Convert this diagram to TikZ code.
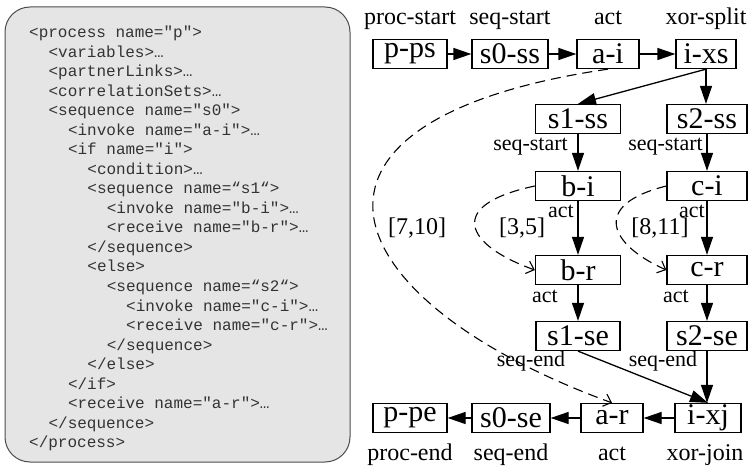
\documentclass[tikz,border=0pt]{standalone}
\usepackage{fontspec}
\setmainfont{Liberation Serif}
\newfontfamily\codefont{Liberation Mono}
\usetikzlibrary{positioning,arrows.meta}

\tikzset{
  blk/.style={draw, line width=1.3pt, inner sep=0pt, minimum height=29pt,
    font=\fontsize{30}{32}\selectfont},
  lbl/.style={inner sep=1pt, anchor=base, font=\fontsize{24}{26}\selectfont},
  sml/.style={inner sep=1pt, font=\fontsize{22}{24}\selectfont},
  arr/.style={line width=1.3pt, -{Triangle[length=18pt,width=12pt]}},
  dep/.style={line width=1.1pt, dash pattern=on 10pt off 6pt,
    -{Straight Barb[length=7pt,width=13pt]}},
  code/.style={anchor=base west, inner sep=0pt, text=black!80,
    font=\codefont\fontsize{16}{19}\selectfont},
}

\begin{document}
\begin{tikzpicture}[x=1pt,y=-1pt]
\useasboundingbox (0,0) rectangle (748,468);

% the BPEL source
\draw[fill=black!10, draw=black!70, line width=1pt, rounded corners=25pt]
  (5,7) rectangle (350,462);
\node[code] (c0) at (29,38) {<process name="p">};
\node[code] (c1) at (48.4,57.5) {<variables>…};
\node[code] (c2) at (48.4,77) {<partnerLinks>…};
\node[code] (c3) at (48.4,96.5) {<correlationSets>…};
\node[code] (c4) at (48.4,116) {<sequence name="s0">};
\node[code] (c5) at (67.8,135.5) {<invoke name="a-i">…};
\node[code] (c6) at (67.8,155) {<if name="i">};
\node[code] (c7) at (87.2,174.5) {<condition>…};
\node[code] (c8) at (87.2,194) {<sequence name=“s1“>};
\node[code] (c9) at (106.6,213.5) {<invoke name="b-i">…};
\node[code] (c10) at (106.6,233) {<receive name="b-r">…};
\node[code] (c11) at (87.2,252.5) {</sequence>};
\node[code] (c12) at (87.2,272) {<else>};
\node[code] (c13) at (106.6,291.5) {<sequence name=“s2“>};
\node[code] (c14) at (126,311) {<invoke name="c-i">…};
\node[code] (c15) at (126,330.5) {<receive name="c-r">…};
\node[code] (c16) at (106.6,350) {</sequence>};
\node[code] (c17) at (87.2,369.5) {</else>};
\node[code] (c18) at (67.8,389) {</if>};
\node[code] (c19) at (67.8,408.5) {<receive name="a-r">…};
\node[code] (c20) at (48.4,428) {</sequence>};
\node[code] (c21) at (29,447.5) {</process>};

% the graph
\node[blk, minimum width=74pt] (pps) at (410,54) {p-ps};
\node[blk, minimum width=76pt] (s0ss) at (510,54) {s0-ss};
\node[blk, minimum width=62pt] (ai) at (608,54) {a-i};
\node[blk, minimum width=60pt] (ixs) at (706,54) {i-xs};

\node[blk, minimum width=85pt] (s1ss) at (578,119) {s1-ss};
\node[blk, minimum width=80pt] (s2ss) at (707,119) {s2-ss};
\node[blk, minimum width=85pt] (bi) at (578,186) {b-i};
\node[blk, minimum width=80pt] (ci) at (707,186) {c-i};
\node[blk, minimum width=85pt] (br) at (578,270) {b-r};
\node[blk, minimum width=80pt] (cr) at (707,270) {c-r};
\node[blk, minimum width=84pt] (s1se) at (578,336) {s1-se};
\node[blk, minimum width=80pt] (s2se) at (707,336) {s2-se};

\node[blk, minimum width=74pt] (ppe) at (410,418) {p-pe};
\node[blk, minimum width=78pt] (s0se) at (511,418) {s0-se};
\node[blk, minimum width=62pt] (ar) at (612,418) {a-r};
\node[blk, minimum width=66pt] (ixj) at (708,418) {i-xj};

\node[lbl] (lpps) at (410,25) {proc-start};
\node[lbl] (ls0ss) at (510,25) {seq-start};
\node[lbl] (lai) at (608,25) {act};
\node[lbl] (lixs) at (706,25) {xor-split};

\node[lbl] (lppe) at (410,460) {proc-end};
\node[lbl] (ls0se) at (511,460) {seq-end};
\node[lbl] (lar) at (612,460) {act};
\node[lbl] (lixj) at (705,460) {xor-join};

\node[sml, anchor=east] (ls1ss) at (569,147) {seq-start};
\node[sml, anchor=east] (ls2ss) at (704,147) {seq-start};
\node[sml, anchor=east] (lbi) at (575,211) {act};
\node[sml, anchor=east] (lci) at (706,211) {act};
\node[sml] (lbr) at (545,296) {act};
\node[sml] (lcr) at (676,296) {act};
\node[sml] (ls1se) at (531,361) {seq-end};
\node[sml] (ls2se) at (663,361) {seq-end};

\node[lbl] (t1) at (417,235) {[7,10]};
\node[lbl] (t2) at (522,235) {[3,5]};
\node[lbl] (t3) at (660,235) {[8,11]};

\draw[arr] (pps) -- (s0ss);
\draw[arr] (s0ss) -- (ai);
\draw[arr] (ai) -- (ixs);
\draw[arr] (ixs.south) -- (s1ss.north);
\draw[arr] (ixs.south) -- (ixs.south |- s2ss.north);

\draw[arr] (s1ss) -- (bi);
\draw[arr] (bi) -- (br);
\draw[arr] (br) -- (s1se);
\draw[arr] (s2ss) -- (ci);
\draw[arr] (ci) -- (cr);
\draw[arr] (cr) -- (s2se);

\draw[arr] (s1se.south) -- (ixj.north);
\draw[arr] (s2se.south) -- (s2se.south |- ixj.north);
\draw[arr] (ixj) -- (ar);
\draw[arr] (ar) -- (s0se);
\draw[arr] (s0se) -- (ppe);

% time constraints
\draw[dep] (ai.south) .. controls (260,120) and (330,300) .. (ar.north);
\draw[dep] (bi.west) .. controls (445,205) and (465,245) .. (br.west);
\draw[dep] (ci.west) .. controls (590,205) and (610,245) .. (cr.west);
\end{tikzpicture}
\end{document}
